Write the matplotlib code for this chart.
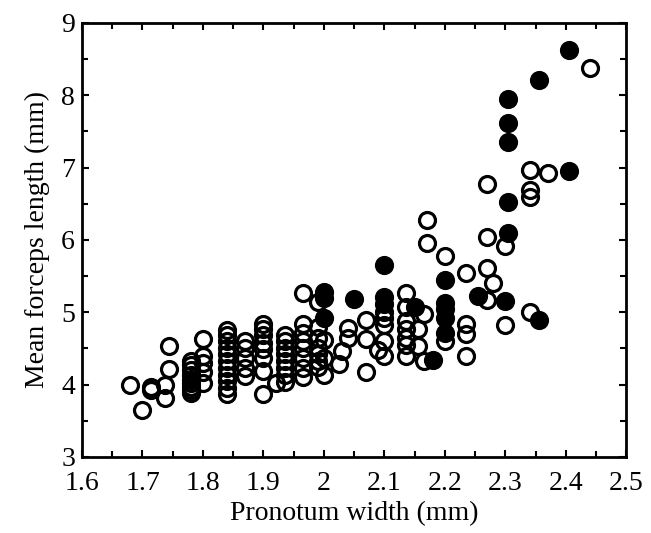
import numpy as np
import matplotlib
matplotlib.use("Agg")
import matplotlib.pyplot as plt
from matplotlib.ticker import MultipleLocator

plt.rcParams['font.family'] = ['Liberation Serif', 'DejaVu Serif']

# open circles (pronotum width, forceps length)
open_x = [1.68, 1.70, 1.714, 1.714, 1.738, 1.738, 1.744, 1.744,
          1.78, 1.78, 1.78, 1.78, 1.78, 1.78, 1.78, 1.78, 1.78,
          1.80, 1.80, 1.80, 1.80, 1.80,
          1.84, 1.84, 1.84, 1.84, 1.84, 1.84, 1.84, 1.84, 1.84, 1.84, 1.84,
          1.87, 1.87, 1.87, 1.87, 1.87,
          1.90, 1.90, 1.90, 1.90, 1.90, 1.90, 1.90, 1.90,
          1.92,
          1.935, 1.935, 1.935, 1.935, 1.935, 1.935, 1.935, 1.935,
          1.965, 1.965, 1.965, 1.965, 1.965, 1.965, 1.965, 1.965,
          1.99, 1.99, 1.99, 1.99, 1.99, 1.99, 1.99,
          2.00, 2.00, 2.00,
          2.025, 2.03, 2.04, 2.04,
          2.07, 2.07, 2.07, 2.09,
          2.10, 2.10, 2.10, 2.10, 2.10,
          2.135, 2.135, 2.135, 2.135, 2.135, 2.135, 2.135,
          2.155, 2.155, 2.165, 2.165, 2.17, 2.17,
          2.20, 2.20,
          2.235, 2.235, 2.235, 2.235,
          2.27, 2.27, 2.27, 2.27, 2.28,
          2.30, 2.30,
          2.34, 2.34, 2.34, 2.34,
          2.37, 2.44]
open_y = [4.00, 3.65, 3.97, 3.92, 4.00, 3.82, 4.53, 4.21,
          4.33, 4.27, 4.20, 4.13, 4.07, 4.02, 3.97, 3.92, 3.88,
          4.63, 4.40, 4.30, 4.18, 4.02,
          4.75, 4.68, 4.60, 4.50, 4.42, 4.33, 4.23, 4.14, 4.05, 3.95, 3.87,
          4.60, 4.50, 4.37, 4.23, 4.12,
          4.84, 4.77, 4.68, 4.58, 4.49, 4.37, 4.19, 3.87,
          4.02,
          4.68, 4.60, 4.50, 4.42, 4.33, 4.23, 4.14, 4.04,
          5.26, 4.84, 4.72, 4.60, 4.50, 4.37, 4.23, 4.10,
          5.14, 4.80, 4.65, 4.51, 4.42, 4.33, 4.25,
          4.62, 4.37, 4.14,
          4.28, 4.47, 4.78, 4.65,
          4.89, 4.17, 4.63, 4.48,
          5.00, 4.92, 4.82, 4.60, 4.40,
          5.26, 5.08, 4.88, 4.77, 4.65, 4.55, 4.40,
          4.77, 4.54, 4.98, 4.33, 6.27, 5.96,
          5.78, 4.60,
          5.54, 4.84, 4.70, 4.40,
          6.78, 6.04, 5.61, 5.17, 5.40,
          5.92, 4.82,
          6.97, 6.69, 6.60, 5.00,
          6.92, 8.37]

# filled circles
filled_x = [2.405, 2.355, 2.305, 2.305, 2.305, 2.305, 2.305, 2.30,
            2.405, 2.355, 2.255,
            2.20, 2.20, 2.20, 2.20, 2.20, 2.18, 2.15,
            2.10, 2.10, 2.10, 2.05, 2.00, 2.00, 2.00]
filled_y = [8.63, 8.21, 7.95, 7.62, 7.36, 6.53, 6.10, 5.16,
            6.96, 4.90, 5.22,
            5.45, 5.13, 5.05, 4.92, 4.72, 4.34, 5.08,
            5.66, 5.21, 5.12, 5.19, 5.28, 5.20, 4.92]

fig = plt.figure(figsize=(6.51, 5.33), dpi=100)
ax = fig.add_axes([0.126, 0.1426, 0.836, 0.8144])

ax.plot(open_x, open_y, 'o', ms=11.5, mfc='none', mec='black', mew=2.3)
ax.plot(filled_x, filled_y, 'o', ms=11.5, mfc='black', mec='black', mew=2.3)

ax.set_xlim(1.6, 2.5)
ax.set_ylim(3, 9)
ax.set_xticks(np.arange(1.6, 2.51, 0.1))
ax.set_xticklabels(['1.6', '1.7', '1.8', '1.9', '2', '2.1', '2.2', '2.3', '2.4', '2.5'])
ax.xaxis.set_minor_locator(MultipleLocator(0.05))
ax.yaxis.set_major_locator(MultipleLocator(1))
ax.yaxis.set_minor_locator(MultipleLocator(0.5))

ax.tick_params(which='both', direction='in', top=True, right=True, labelsize=20)
ax.tick_params(axis='x', pad=10)
ax.tick_params(axis='y', pad=5)
ax.tick_params(which='major', length=5, width=1.5)
ax.tick_params(which='minor', length=4, width=1.5)
for s in ax.spines.values():
    s.set_linewidth(2)

ax.set_xlabel('Pronotum width (mm)', fontsize=20, labelpad=4)
ax.set_ylabel('Mean forceps length (mm)', fontsize=20, labelpad=8)

fig.savefig('out.png', dpi=100)
